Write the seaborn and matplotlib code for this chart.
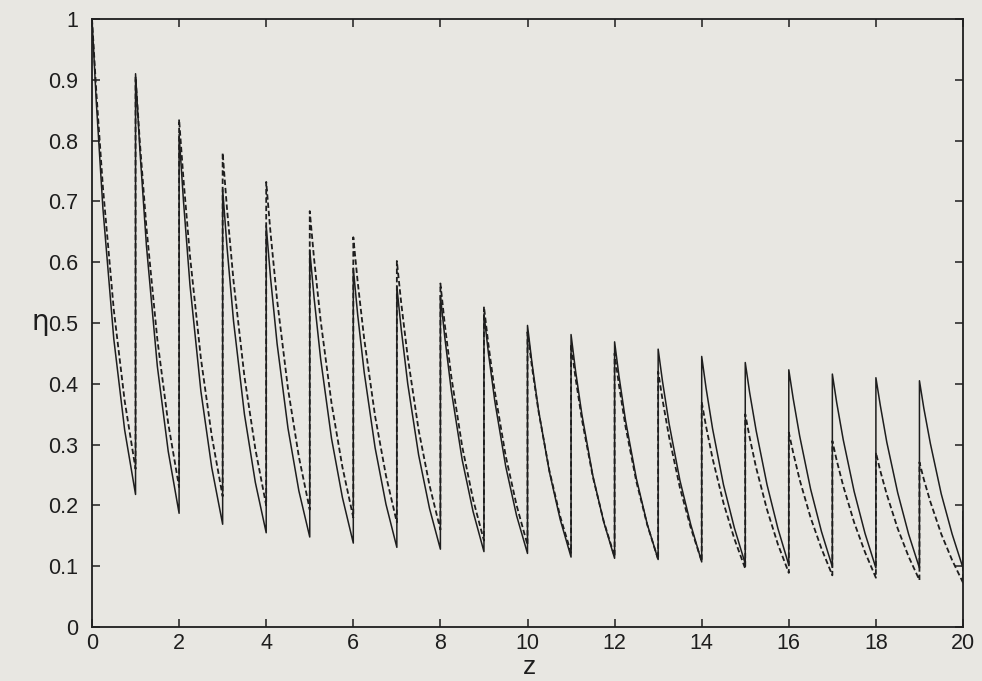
import matplotlib
matplotlib.use("Agg")
import matplotlib.pyplot as plt
import seaborn as sns
import pandas as pd

# sample positions inside each tooth (fraction of the unit interval)
offsets = [0.0, 0.1, 0.25, 0.5, 0.75, 1.0]

# solid curve: values read at the offsets above, one row per tooth (z = 0..19)
solid_teeth = [
    [1.000, 0.862, 0.689, 0.474, 0.324, 0.218],
    [0.910, 0.784, 0.627, 0.429, 0.289, 0.187],
    [0.810, 0.701, 0.562, 0.388, 0.262, 0.169],
    [0.720, 0.625, 0.503, 0.350, 0.238, 0.155],
    [0.660, 0.574, 0.466, 0.327, 0.224, 0.148],
    [0.620, 0.541, 0.441, 0.310, 0.213, 0.138],
    [0.590, 0.514, 0.419, 0.295, 0.202, 0.131],
    [0.560, 0.490, 0.400, 0.283, 0.195, 0.128],
    [0.545, 0.477, 0.389, 0.275, 0.190, 0.124],
    [0.515, 0.452, 0.371, 0.264, 0.183, 0.121],
    [0.496, 0.436, 0.358, 0.256, 0.177, 0.115],
    [0.481, 0.423, 0.349, 0.249, 0.173, 0.113],
    [0.469, 0.413, 0.340, 0.244, 0.169, 0.111],
    [0.457, 0.404, 0.335, 0.241, 0.168, 0.107],
    [0.445, 0.393, 0.326, 0.234, 0.163, 0.104],
    [0.435, 0.386, 0.323, 0.234, 0.162, 0.102],
    [0.423, 0.376, 0.314, 0.227, 0.157, 0.099],
    [0.416, 0.369, 0.308, 0.223, 0.154, 0.097],
    [0.410, 0.365, 0.304, 0.221, 0.153, 0.097],
    [0.405, 0.360, 0.302, 0.219, 0.153, 0.097],
]

# dashed curve: values read at the offsets above, one row per tooth
dashed_teeth = [
    [1.000, 0.879, 0.724, 0.522, 0.372, 0.260],
    [0.905, 0.796, 0.657, 0.473, 0.335, 0.230],
    [0.835, 0.737, 0.610, 0.442, 0.314, 0.215],
    [0.780, 0.688, 0.569, 0.412, 0.293, 0.200],
    [0.732, 0.648, 0.538, 0.392, 0.280, 0.193],
    [0.684, 0.605, 0.504, 0.368, 0.263, 0.180],
    [0.641, 0.568, 0.474, 0.347, 0.249, 0.172],
    [0.602, 0.533, 0.444, 0.324, 0.233, 0.160],
    [0.565, 0.498, 0.412, 0.297, 0.210, 0.142],
    [0.527, 0.466, 0.387, 0.281, 0.200, 0.135],
    [0.485, 0.429, 0.356, 0.258, 0.182, 0.122],
    [0.465, 0.411, 0.341, 0.247, 0.174, 0.116],
    [0.450, 0.398, 0.330, 0.239, 0.168, 0.111],
    [0.420, 0.374, 0.313, 0.229, 0.163, 0.108],
    [0.370, 0.330, 0.277, 0.204, 0.145, 0.096],
    [0.350, 0.312, 0.262, 0.193, 0.136, 0.089],
    [0.320, 0.287, 0.242, 0.180, 0.129, 0.085],
    [0.306, 0.274, 0.232, 0.172, 0.123, 0.081],
    [0.287, 0.257, 0.218, 0.162, 0.116, 0.077],
    [0.271, 0.243, 0.206, 0.153, 0.110, 0.073],
]

# value reached by the jump drawn at the right edge (z = 20)
solid_end = 0.19
dashed_end = 0.19

x_ticks = list(range(0, 21, 2))
y_ticks = [0, 0.1, 0.2, 0.3, 0.4, 0.5, 0.6, 0.7, 0.8, 0.9, 1.0]
y_tick_labels = ["0", "0.1", "0.2", "0.3", "0.4", "0.5", "0.6", "0.7", "0.8", "0.9", "1"]


def build(teeth, end_val):
    zs, vals = [], []
    for n, row in enumerate(teeth):
        for off, v in zip(offsets, row):
            zs.append(n + off)
            vals.append(v)
    zs.append(len(teeth))
    vals.append(end_val)
    return pd.DataFrame({"z": zs, "eta": vals})


df_solid = build(solid_teeth, solid_end)
df_dashed = build(dashed_teeth, dashed_end)

sns.set_theme(style="ticks")
plt.rcParams["font.family"] = ["Liberation Sans", "DejaVu Sans"]

bg = "#e8e7e2"
ink = "#1e1e1e"

fig = plt.figure(figsize=(9.82, 6.81), dpi=100, facecolor=bg)
ax = fig.add_axes([92 / 982, 1 - 627 / 681, (963 - 92) / 982, (627 - 19) / 681])
ax.set_facecolor(bg)

sns.lineplot(data=df_solid, x="z", y="eta", sort=False, estimator=None,
             color=ink, linewidth=1.1, ax=ax)
sns.lineplot(data=df_dashed, x="z", y="eta", sort=False, estimator=None,
             color=ink, linewidth=1.3, linestyle=(0, (3, 1.6)), ax=ax)

ax.set_xlim(0, 20)
ax.set_ylim(0, 1)
ax.set_xticks(x_ticks)
ax.set_xticklabels([str(t) for t in x_ticks])
ax.set_yticks(y_ticks)
ax.set_yticklabels(y_tick_labels)

ax.tick_params(axis="both", which="major", direction="in", length=6, width=1.1,
               colors=ink, labelsize=15.5, top=True, right=True)
ax.tick_params(axis="y", pad=10)
ax.tick_params(axis="x", pad=4)
for s in ax.spines.values():
    s.set_linewidth(1.3)
    s.set_color(ink)
    s.set_visible(True)

ax.set_xlabel("")
ax.set_ylabel("")
fig.text(530 / 982, 1 - 679 / 681, "z", ha="center", va="bottom", fontsize=19, color=ink)
fig.text(40 / 982, 1 - 322 / 681, "η", ha="center", va="center", fontsize=20, color=ink,
         family=["DejaVu Sans"])

fig.savefig("out.png", dpi=100, facecolor=bg)
